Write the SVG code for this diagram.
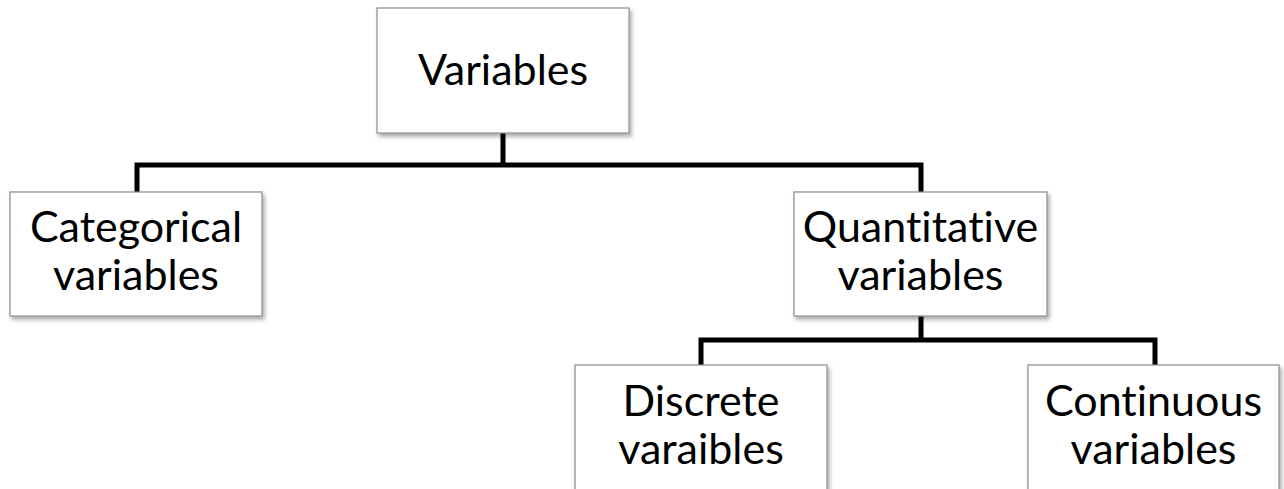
<svg xmlns="http://www.w3.org/2000/svg" width="1284" height="489" viewBox="0 0 1284 489">
<defs>
<filter id="sh" x="-10%" y="-10%" width="130%" height="140%">
<feDropShadow dx="2" dy="3" stdDeviation="2" flood-color="#000" flood-opacity="0.35"/>
</filter>
<style>
.box{fill:#fff;stroke:#8c8c8c;stroke-width:1.2;filter:url(#sh)}
.t{font-family:Lato,"Open Sans",sans-serif;font-size:43px;fill:#000;text-anchor:middle;font-variant-ligatures:none;font-feature-settings:"liga" 0}
.c{fill:none;stroke:#000;stroke-width:5;stroke-linejoin:miter}
</style>
</defs>
<rect width="1284" height="489" fill="#fff"/>
<g id="connectors">
<path class="c" d="M503,133 V165 M137,192 V165 H921 V192"/>
<path class="c" d="M921,316 V340 M701,365 V340 H1155 V365"/>
</g>
<g id="variables">
<rect class="box" x="377" y="8" width="252" height="125"/>
<text class="t" x="503" y="85">Variables</text>
</g>
<g id="categorical">
<rect class="box" x="10" y="192" width="252" height="124"/>
<text class="t" x="136" y="242">Categorical</text>
<text class="t" x="136" y="290">variables</text>
</g>
<g id="quantitative">
<rect class="box" x="794" y="192" width="253" height="124"/>
<text class="t" x="920.5" y="242">Quantitative</text>
<text class="t" x="920.5" y="290">variables</text>
</g>
<g id="discrete">
<rect class="box" x="575" y="365" width="252" height="140"/>
<text class="t" x="701" y="416">Discrete</text>
<text class="t" x="701" y="464">varaibles</text>
</g>
<g id="continuous">
<rect class="box" x="1028" y="365" width="251" height="140"/>
<text class="t" x="1153.5" y="416">Continuous</text>
<text class="t" x="1153.5" y="464">variables</text>
</g>
</svg>
